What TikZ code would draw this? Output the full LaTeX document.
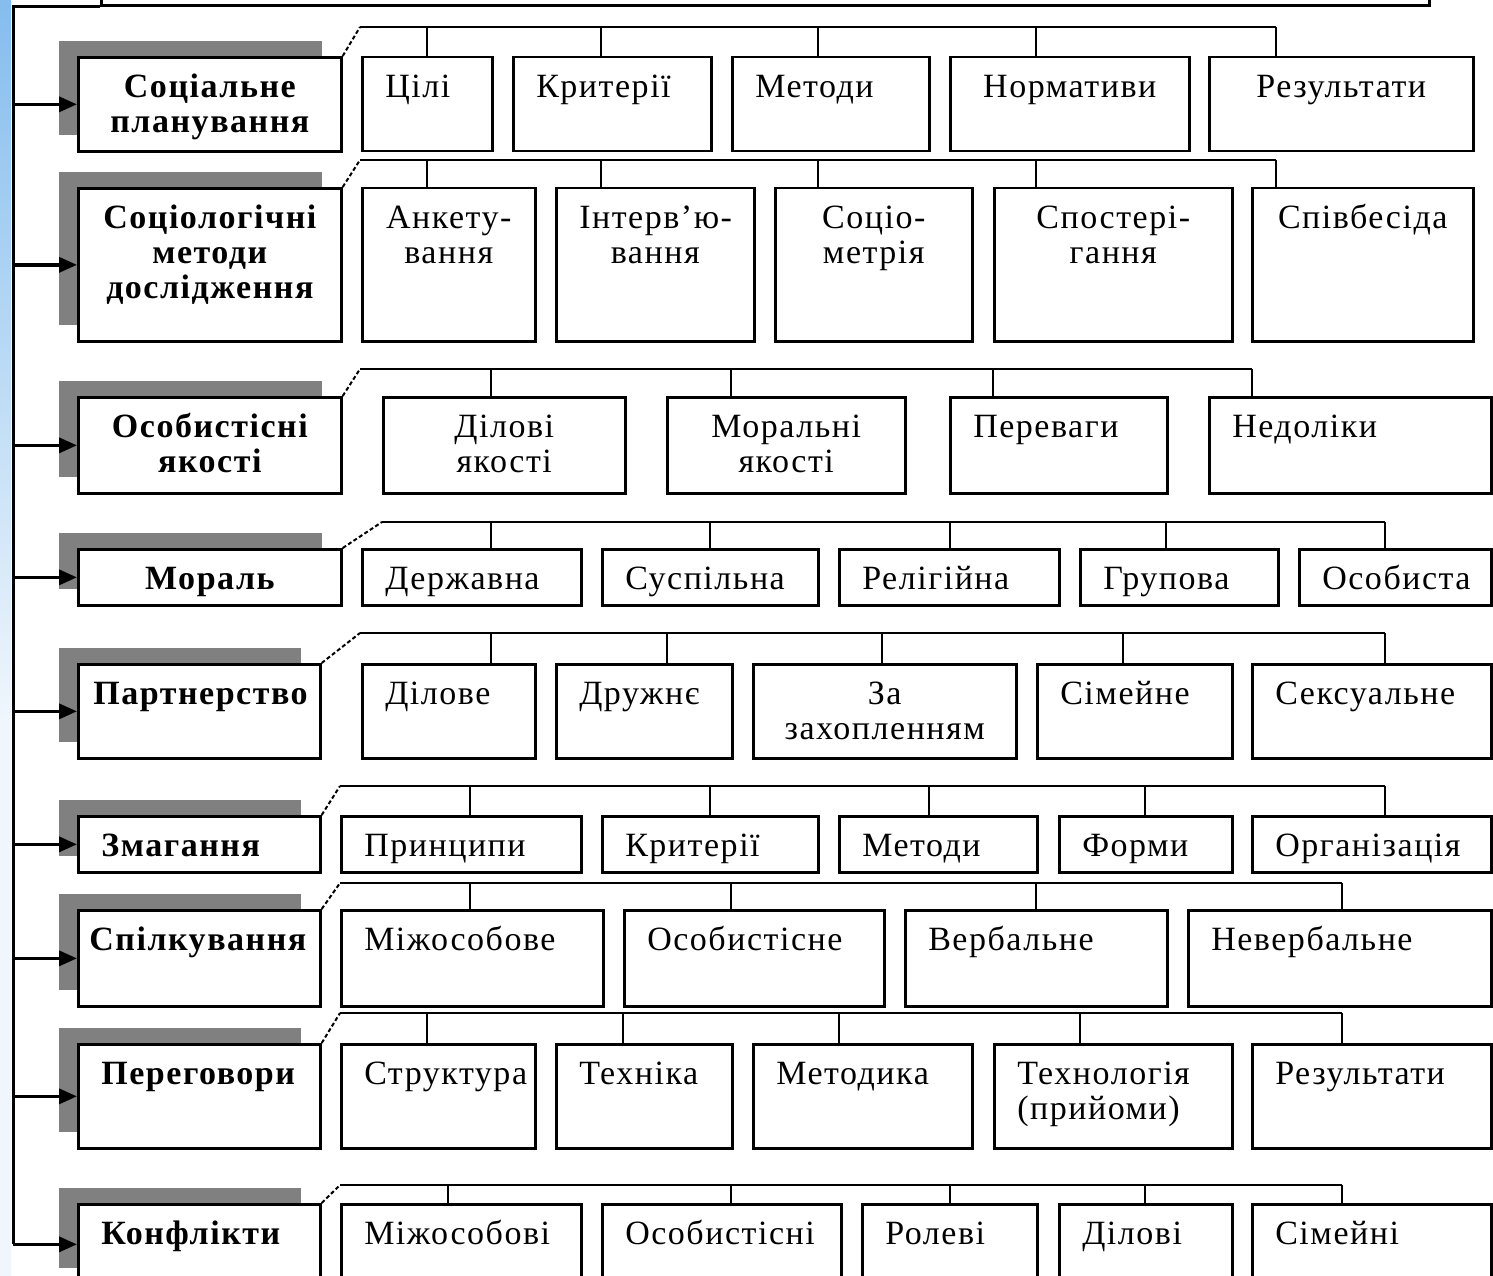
\documentclass[tikz,border=0pt]{standalone}
\usepackage{fontspec}
\setmainfont{Liberation Serif}[LetterSpace=4.5]
\usetikzlibrary{arrows.meta,shadows}
\definecolor{ShadowGray}{HTML}{808080}
\definecolor{StripBlue}{HTML}{84BDEE}
\definecolor{StripPale}{HTML}{F0F6FC}
\hyphenpenalty=10000
\exhyphenpenalty=10000
\newcommand\catfont{\bfseries\fontsize{34}{35}\selectfont}
\newcommand\kidfont{\fontsize{34}{35}\selectfont}
\tikzset{
  cat/.style={draw,fill=white,line width=2.7pt,anchor=north west,inner ysep=0pt,
    text height=40pt,font=\catfont,
    general shadow={fill=ShadowGray,shadow xshift=-19pt,shadow yshift=16pt}},
  kid/.style={draw,fill=white,line width=2.5pt,anchor=north west,inner ysep=0pt,
    inner xsep=23pt,text height=40pt,font=\kidfont},
  feed/.style={line width=3.5pt,-{Triangle[length=18pt,width=15pt]}},
  trunk/.style={line width=3pt},
  bus/.style={line width=2.5pt},
  drop/.style={line width=2.2pt},
  diag/.style={line width=2pt,dash pattern=on 4pt off 2.5pt}
}
\begin{document}
\begin{tikzpicture}[x=1pt,y=-1pt]
\useasboundingbox (0,0) rectangle (1493,1276);
\clip (0,0) rectangle (1493,1276);
% left strip
\shade[top color=StripBlue,bottom color=StripPale] (0,0) rectangle (11,720);
\fill[StripPale] (0,720) rectangle (11,1276);
\node[draw,line width=2.7pt,anchor=south west,inner sep=0pt,minimum width=1328pt,minimum height=80pt] (top) at (100,7) {};
\coordinate (root) at (13,7);

% Соціальне планування
\node[cat,inner xsep=14pt,text width=235pt,align=center,text depth=54pt] (c1) at (77,56) {Соціальне\\планування};
\coordinate (b1) at (360,27);
\foreach \xl/\xr/\dx/\al/\txt [count=\i] in {361/491/427/left/Цілі, 512/710/601/left/Критерії, 731/928/818/left/Методи,
    949/1188/1036/center/Нормативи, 1208/1472/1276/center/Результати}{
  \pgfmathsetmacro\tw{\xr-\xl-46}
  \node[kid,align=\al,text width=\tw pt,text depth=54pt] (k1\i) at (\xl,56) {\txt};
  \coordinate (d1\i) at (\dx,27);
  \draw[drop] (d1\i) -- (d1\i |- k1\i.north);
}
\draw[diag] (c1.north east) -- (b1);
\draw[bus] (b1) -- (d15);

% Соціологічні методи
\node[cat,inner xsep=14pt,text width=235pt,align=center,text depth=113pt] (c2) at (77,187) {Соціологічні\\методи\\дослідження};
\coordinate (b2) at (360,160);
\foreach \xl/\xr/\dx/\al/\txt [count=\i] in {361/534/427/center/Анкету-\\вання, 555/753/601/center/Інтерв’ю-\\вання,
    774/971/818/center/Соціо-\\метрія, 993/1231/1036/center/Спостері-\\гання, 1251/1472/1276/center/Співбесіда}{
  \pgfmathsetmacro\tw{\xr-\xl-46}
  \node[kid,align=\al,text width=\tw pt,text depth=113pt] (k2\i) at (\xl,187) {\txt};
  \coordinate (d2\i) at (\dx,160);
  \draw[drop] (d2\i) -- (d2\i |- k2\i.north);
}
\draw[diag] (c2.north east) -- (b2);
\draw[bus] (b2) -- (d25);

% Особистісні якості
\node[cat,inner xsep=14pt,text width=235pt,align=center,text depth=56pt] (c3) at (77,396) {Особистісні\\якості};
\coordinate (b3) at (360,369);
\foreach \xl/\xr/\dx/\al/\txt [count=\i] in {382/624/491/center/Ділові\\якості, 666/904/731/center/Моральні\\якості,
    949/1166/993/left/Переваги, 1208/1490/1252/left/Недоліки}{
  \pgfmathsetmacro\tw{\xr-\xl-46}
  \node[kid,align=\al,text width=\tw pt,text depth=56pt] (k3\i) at (\xl,396) {\txt};
  \coordinate (d3\i) at (\dx,369);
  \draw[drop] (d3\i) -- (d3\i |- k3\i.north);
}
\draw[diag] (c3.north east) -- (b3);
\draw[bus] (b3) -- (d34);

% Мораль
\node[cat,inner xsep=14pt,text width=235pt,align=center,text depth=16pt] (c4) at (77,548) {Мораль};
\coordinate (b4) at (382,522);
\foreach \xl/\xr/\dx/\al/\txt [count=\i] in {361/580/491/left/Державна, 601/817/710/left/Суспільна, 838/1058/950/left/Релігійна,
    1079/1277/1166/left/Групова, 1298/1490/1385/left/Особиста}{
  \pgfmathsetmacro\tw{\xr-\xl-46}
  \node[kid,align=\al,text width=\tw pt,text depth=16pt] (k4\i) at (\xl,548) {\txt};
  \coordinate (d4\i) at (\dx,522);
  \draw[drop] (d4\i) -- (d4\i |- k4\i.north);
}
\draw[diag] (c4.north east) -- (b4);
\draw[bus] (b4) -- (d45);

% Партнерство
\node[cat,inner xsep=15pt,text width=212pt,align=left,text depth=54pt] (c5) at (77,663) {Партнерство};
\coordinate (b5) at (360,633);
\foreach \xl/\xr/\dx/\al/\txt [count=\i] in {361/534/491/left/Ділове, 555/731/667/left/Дружнє, 752/1015/882/center/За\\захопленням,
    1036/1231/1123/left/Сімейне, 1251/1490/1385/left/Сексуальне}{
  \pgfmathsetmacro\tw{\xr-\xl-46}
  \node[kid,align=\al,text width=\tw pt,text depth=54pt] (k5\i) at (\xl,663) {\txt};
  \coordinate (d5\i) at (\dx,633);
  \draw[drop] (d5\i) -- (d5\i |- k5\i.north);
}
\draw[diag] (c5.north east) -- (b5);
\draw[bus] (b5) -- (d55);

% Змагання
\node[cat,inner xsep=23pt,text width=196pt,align=left,text depth=16pt] (c6) at (77,815) {Змагання};
\coordinate (b6) at (340,786);
\foreach \xl/\xr/\dx/\al/\txt [count=\i] in {340/580/470/left/Принципи, 601/817/710/left/Критерії, 838/1036/929/left/Методи,
    1058/1231/1145/left/Форми, 1251/1490/1385/left/Організація}{
  \pgfmathsetmacro\tw{\xr-\xl-46}
  \node[kid,align=\al,text width=\tw pt,text depth=16pt] (k6\i) at (\xl,815) {\txt};
  \coordinate (d6\i) at (\dx,786);
  \draw[drop] (d6\i) -- (d6\i |- k6\i.north);
}
\draw[diag] (c6.north east) -- (b6);
\draw[bus] (b6) -- (d65);

% Спілкування
\node[cat,inner xsep=11pt,text width=220pt,align=left,text depth=56pt] (c7) at (77,909) {Спілкування};
\coordinate (b7) at (340,883);
\foreach \xl/\xr/\dx/\al/\txt [count=\i] in {340/602/470/left/Міжособове, 623/883/731/left/Особистісне, 904/1166/1036/left/Вербальне,
    1187/1490/1342/left/Невербальне}{
  \pgfmathsetmacro\tw{\xr-\xl-46}
  \node[kid,align=\al,text width=\tw pt,text depth=56pt] (k7\i) at (\xl,909) {\txt};
  \coordinate (d7\i) at (\dx,883);
  \draw[drop] (d7\i) -- (d7\i |- k7\i.north);
}
\draw[diag] (c7.north east) -- (b7);
\draw[bus] (b7) -- (d74);

% Переговори
\node[cat,inner xsep=23pt,text width=196pt,align=left,text depth=64pt] (c8) at (77,1043) {Переговори};
\coordinate (b8) at (340,1013);
\foreach \xl/\xr/\dx/\al/\txt [count=\i] in {340/534/427/left/Структура, 555/731/623/left/Техніка, 752/971/839/left/Методика,
    993/1231/1080/left/Технологія\\(прийоми), 1251/1490/1342/left/Результати}{
  \pgfmathsetmacro\tw{\xr-\xl-46}
  \node[kid,align=\al,text width=\tw pt,text depth=64pt] (k8\i) at (\xl,1043) {\txt};
  \coordinate (d8\i) at (\dx,1013);
  \draw[drop] (d8\i) -- (d8\i |- k8\i.north);
}
\draw[diag] (c8.north east) -- (b8);
\draw[bus] (b8) -- (d85);

% Конфлікти
\node[cat,inner xsep=23pt,text width=196pt,align=left,text depth=40pt] (c9) at (77,1203) {Конфлікти};
\coordinate (b9) at (340,1185);
\foreach \xl/\xr/\dx/\al/\txt [count=\i] in {340/580/448/left/Міжособові, 601/840/731/left/Особистісні, 861/1036/950/left/Ролеві,
    1058/1231/1145/left/Ділові, 1251/1490/1342/left/Сімейні}{
  \pgfmathsetmacro\tw{\xr-\xl-46}
  \node[kid,align=\al,text width=\tw pt,text depth=40pt] (k9\i) at (\xl,1203) {\txt};
  \coordinate (d9\i) at (\dx,1185);
  \draw[drop] (d9\i) -- (d9\i |- k9\i.north);
}
\draw[diag] (c9.north east) -- (b9);
\draw[bus] (b9) -- (d95);

% trunk and arrows
\draw[trunk] (top.south west) -- (root) -- (root |- c9.west);
\foreach \r in {1,...,9}
  \draw[feed] (root |- c\r.west) -- (c\r.west);
\end{tikzpicture}
\end{document}
